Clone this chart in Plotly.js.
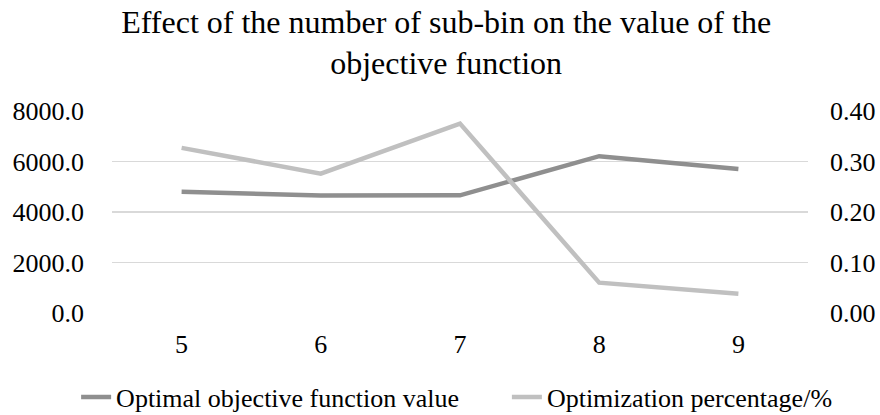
<!DOCTYPE html>
<html>
<head>
<meta charset="utf-8">
<script src="https://cdn.plot.ly/plotly-3.0.1.min.js"></script>
<style>html,body{margin:0;padding:0;background:#fff;}#chart{width:880px;height:415px;}</style>
</head>
<body>
<div id="chart"></div>
<script>
const categories = ["5", "6", "7", "8", "9"];
const objectiveValues = [4800, 4650, 4660, 6210, 5700];
const optimizationPct = [0.327, 0.276, 0.375, 0.060, 0.038];
const seriesNames = ["Optimal objective function value", "Optimization percentage/%"];
const titleText = "Effect of the number of sub-bin on the value of the<br>objective function";

const font = "Liberation Serif, Times New Roman, serif";
const traces = [
  {x: categories, y: objectiveValues, name: seriesNames[0], type: "scatter", mode: "lines",
   line: {color: "#8f8f8f", width: 4.5}, yaxis: "y", legend: "legend"},
  {x: categories, y: optimizationPct, name: seriesNames[1], type: "scatter", mode: "lines",
   line: {color: "#c0c0c0", width: 4.5}, yaxis: "y2", legend: "legend2"}
];
const legendBase = {orientation: "h", xref: "container", xanchor: "left", yref: "container", y: 0.043, yanchor: "middle", font: {size: 26}, itemwidth: 30};
const layout = {
  width: 880, height: 415,
  margin: {l: 112, r: 72, t: 111, b: 102, autoexpand: false},
  paper_bgcolor: "#fff", plot_bgcolor: "#fff",
  font: {family: font, size: 26, color: "#000"},
  title: {text: titleText, font: {family: font, size: 32, color: "#000"}, x: 0.507, xanchor: "center", yref: "container", y: 0.921, yanchor: "middle"},
  xaxis: {type: "category", showgrid: false, zeroline: false, showline: false, ticks: "", tickfont: {size: 26}, range: [-0.5, 4.5], ticklabelstandoff: 13, automargin: false},
  yaxis: {range: [0, 8000], dtick: 2000, tickformat: ".1f", gridcolor: "#d9d9d9", gridwidth: 1.3, zeroline: false, showline: false, ticks: "", tickfont: {size: 26}, ticklabelstandoff: 27, automargin: false},
  yaxis2: {range: [0, 0.4], dtick: 0.1, tickformat: ".2f", overlaying: "y", side: "right", showgrid: false, zeroline: false, showline: false, ticks: "", tickfont: {size: 26}, ticklabelstandoff: 21, automargin: false},
  legend: Object.assign({}, legendBase, {x: 0.0865}),
  legend2: Object.assign({}, legendBase, {x: 0.576}),
  showlegend: true
};
Plotly.newPlot("chart", traces, layout, {displayModeBar: false, staticPlot: true});
</script>
</body>
</html>
